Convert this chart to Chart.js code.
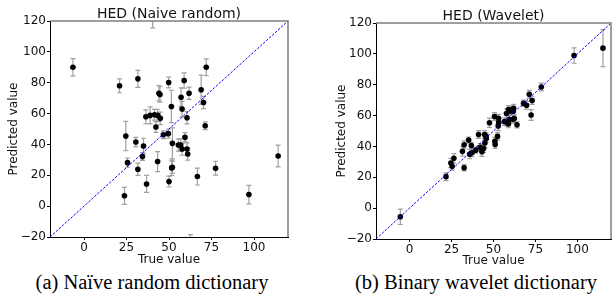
<!DOCTYPE html>
<html><head><meta charset="utf-8">
<script src="https://cdn.jsdelivr.net/npm/chart.js@4.4.1/dist/chart.umd.min.js"></script>
<style>
html,body{margin:0;padding:0;background:#fff;width:615px;height:305px;overflow:hidden;}
#c1{position:absolute;left:0;top:0;}
#c2{position:absolute;left:310px;top:0;}
.cap{position:absolute;top:270px;font-family:"Liberation Serif","Times New Roman",serif;font-size:20.5px;line-height:24px;white-space:nowrap;transform:translateX(-50%);color:#000}
</style></head><body>
<canvas id="c1" width="305" height="270"></canvas>
<canvas id="c2" width="305" height="270"></canvas>
<div class="cap" style="left:152px">(a) Naïve random dictionary</div>
<div class="cap" style="left:476px">(b) Binary wavelet dictionary</div>
<script>
// ---- data ----
const naiveTrue = [-6.5,20.9,31.7,71.9,49.8,58.9,44.1,44.7,61.8,68.9,70.3,57.1,51.4,57.7,60.6,36.4,38.9,41.5,43.3,44.9,42.3,71.3,46.7,49.6,59.4,24.6,52.0,30.5,55.5,56.9,35.0,57.7,60.6,61.0,34.4,25.6,43.3,31.7,51.6,52.0,66.7,50.0,36.8,77.4,23.8,97.0,114.2,40.4,62.6];
const naivePred = [90,78,82.5,90,80.1,81.4,73.2,72.4,73.2,75.4,67.2,70.6,64.6,62.9,57.3,57.9,58.8,59.2,58.8,56.9,51.3,52.1,46.3,47,44.6,45.4,40.7,41.6,39.6,39.6,39,37,37,33.8,32.1,28.2,28.9,23.9,24.8,25.2,19.2,15.9,14.4,24.6,6.7,7.5,32.5,124,-25];
const naiveErr  = [5.6,4.5,5.5,5.5,3.5,5,5,5,4,9.5,4,6,10.5,5,4,4.5,5.5,3.5,4,4,3.5,2.5,2.5,3,3,9.5,10,3,4,4,5,4,4,4,2.5,3,6.5,4,5,4,5.5,3.5,5.5,4.5,5.5,6,7,8.5,6.5];

const waveTrue = [-5.5,21.7,24.6,25.4,26.4,32.5,31.5,32.5,35.2,35.8,37.2,36.8,39.4,41.1,42.1,43.1,44.1,44.9,44.7,45.5,45.7,47.6,50.6,50.8,51.0,52.4,53.0,53.1,52.8,56.5,57.7,58.1,58.9,58.9,59.4,59.8,61.0,62.0,61.6,62.4,64.0,61.8,67.9,69.7,71.3,72.4,73.0,78.5,98.0,115.2];
const wavePred = [-5.6,20.4,29.2,27.1,32.3,26.2,36.8,41.1,44.1,35,35.9,40.6,37.6,47.7,39.4,36.6,38.7,42.2,47.7,46.5,45.2,55.3,59.4,43.4,41.3,46.5,58.3,55.7,53.3,56.1,61.3,55.7,54.6,63.9,57.4,63,63.7,64.7,57.6,58.1,54,62.8,68,66.7,73.8,60.4,69.7,78.5,98.9,103.7];
const waveErr  = [5,2.5,3,2.5,3,2,3,2.5,2,3,2.5,2,2,2.5,2.5,3,2.5,3,2.5,2.5,2.5,3,2.5,2.5,2.5,2.5,2.5,2.5,3,2.5,3,2.5,2.5,2.5,2.5,2.5,2.5,2.5,2.5,2.5,2,2.5,2,2.5,2.5,3.5,2.5,2.5,5,12];

const diagonal = [-20, 120];
const xTickValues = [0, 25, 50, 75, 100];
const yTickValues = [-20, 0, 20, 40, 60, 80, 100, 120];
const titles = ["HED (Naive random)", "HED (Wavelet)"];

// ---- plugins ----
const errorBars = {
  id: 'errorBars',
  beforeDatasetsDraw(chart) {
    const {ctx, chartArea: a, scales: {x, y}} = chart;
    ctx.save();
    ctx.beginPath(); ctx.rect(a.left, a.top, a.right - a.left, a.bottom - a.top); ctx.clip();
    ctx.strokeStyle = '#a0a0a0'; ctx.lineWidth = 1.2;
    chart.data.datasets.forEach(ds => {
      if (!ds.errorBars) return;
      ds.data.forEach(p => {
        const px = x.getPixelForValue(p.x);
        const y1 = y.getPixelForValue(p.y - p.err), y2 = y.getPixelForValue(p.y + p.err);
        ctx.beginPath();
        ctx.moveTo(px, y1); ctx.lineTo(px, y2);
        ctx.moveTo(px - 2.5, y1); ctx.lineTo(px + 2.5, y1);
        ctx.moveTo(px - 2.5, y2); ctx.lineTo(px + 2.5, y2);
        ctx.stroke();
      });
    });
    ctx.restore();
  }
};
const frame = {
  id: 'frame',
  afterDraw(chart, args, opts) {
    const {ctx, chartArea: a} = chart;
    ctx.save();
    ctx.strokeStyle = '#7f7f7f'; ctx.lineWidth = 1.5;
    ctx.beginPath();
    ctx.moveTo(a.left, a.top); ctx.lineTo(a.right, a.top); ctx.lineTo(a.right, a.bottom);
    ctx.stroke();
    ctx.fillStyle = '#111';
    ctx.font = '14px "DejaVu Sans"';
    ctx.textAlign = 'center'; ctx.textBaseline = 'alphabetic';
    ctx.fillText(opts.text, (a.left + a.right) / 2, a.top - 3);
    ctx.restore();
  }
};

const fmt = v => v < 0 ? '\u2212' + Math.abs(v) : String(v);

function makeChart(id, tv, pv, ev, title, pad, yW, xH, yTitlePad, xTitlePad) {
  const pts = tv.map((t, i) => ({x: t, y: pv[i], err: ev[i]}));
  return new Chart(document.getElementById(id), {
    type: 'scatter',
    data: {
      datasets: [
        {type: 'line', data: diagonal.map(v => ({x: v, y: v})), borderColor: '#0000ff', borderWidth: 1,
         borderDash: [2.5, 1.5], pointRadius: 0, fill: false, tension: 0},
        {data: pts, errorBars: true, backgroundColor: '#000', borderColor: '#000', pointRadius: 2.8, borderWidth: 0}
      ]
    },
    options: {
      responsive: false, animation: false, devicePixelRatio: 1,
      layout: {padding: pad},
      plugins: {legend: {display: false}, tooltip: {enabled: false}, frame: {text: title}},
      scales: {
        x: {
          type: 'linear', min: -20, max: 120,
          afterBuildTicks: s => { s.ticks = xTickValues.map(v => ({value: v})); },
          afterFit: s => { s.height = xH; },
          grid: {display: true, drawOnChartArea: false, drawTicks: true, tickLength: 3, tickColor: '#000'},
          border: {display: true, color: '#000', width: 1},
          ticks: {font: {family: 'DejaVu Sans', size: 12}, color: '#111', padding: 1, callback: fmt, maxRotation: 0},
          title: {display: true, text: 'True value', font: {family: 'DejaVu Sans', size: 12}, color: '#111', padding: {top: 0, bottom: xTitlePad}}
        },
        y: {
          type: 'linear', min: -20, max: 120,
          afterBuildTicks: s => { s.ticks = yTickValues.map(v => ({value: v})); },
          afterFit: s => { s.width = yW; },
          grid: {display: true, drawOnChartArea: false, drawTicks: true, tickLength: 3, tickColor: '#000'},
          border: {display: true, color: '#000', width: 1},
          ticks: {font: {family: 'DejaVu Sans', size: 12}, color: '#111', padding: 1, callback: fmt},
          title: {display: true, text: 'Predicted value', font: {family: 'DejaVu Sans', size: 12}, color: '#111', padding: {top: yTitlePad, bottom: 0}}
        }
      }
    },
    plugins: [errorBars, frame]
  });
}

makeChart('c1', naiveTrue, naivePred, naiveErr, titles[0], {left: 0, right: 17, top: 21, bottom: 0}, 50, 33, 7, 3);
makeChart('c2', waveTrue, wavePred, waveErr, titles[1], {left: 18, right: 1, top: 23, bottom: 0}, 48, 31, 7, 2);
</script>
</body></html>
